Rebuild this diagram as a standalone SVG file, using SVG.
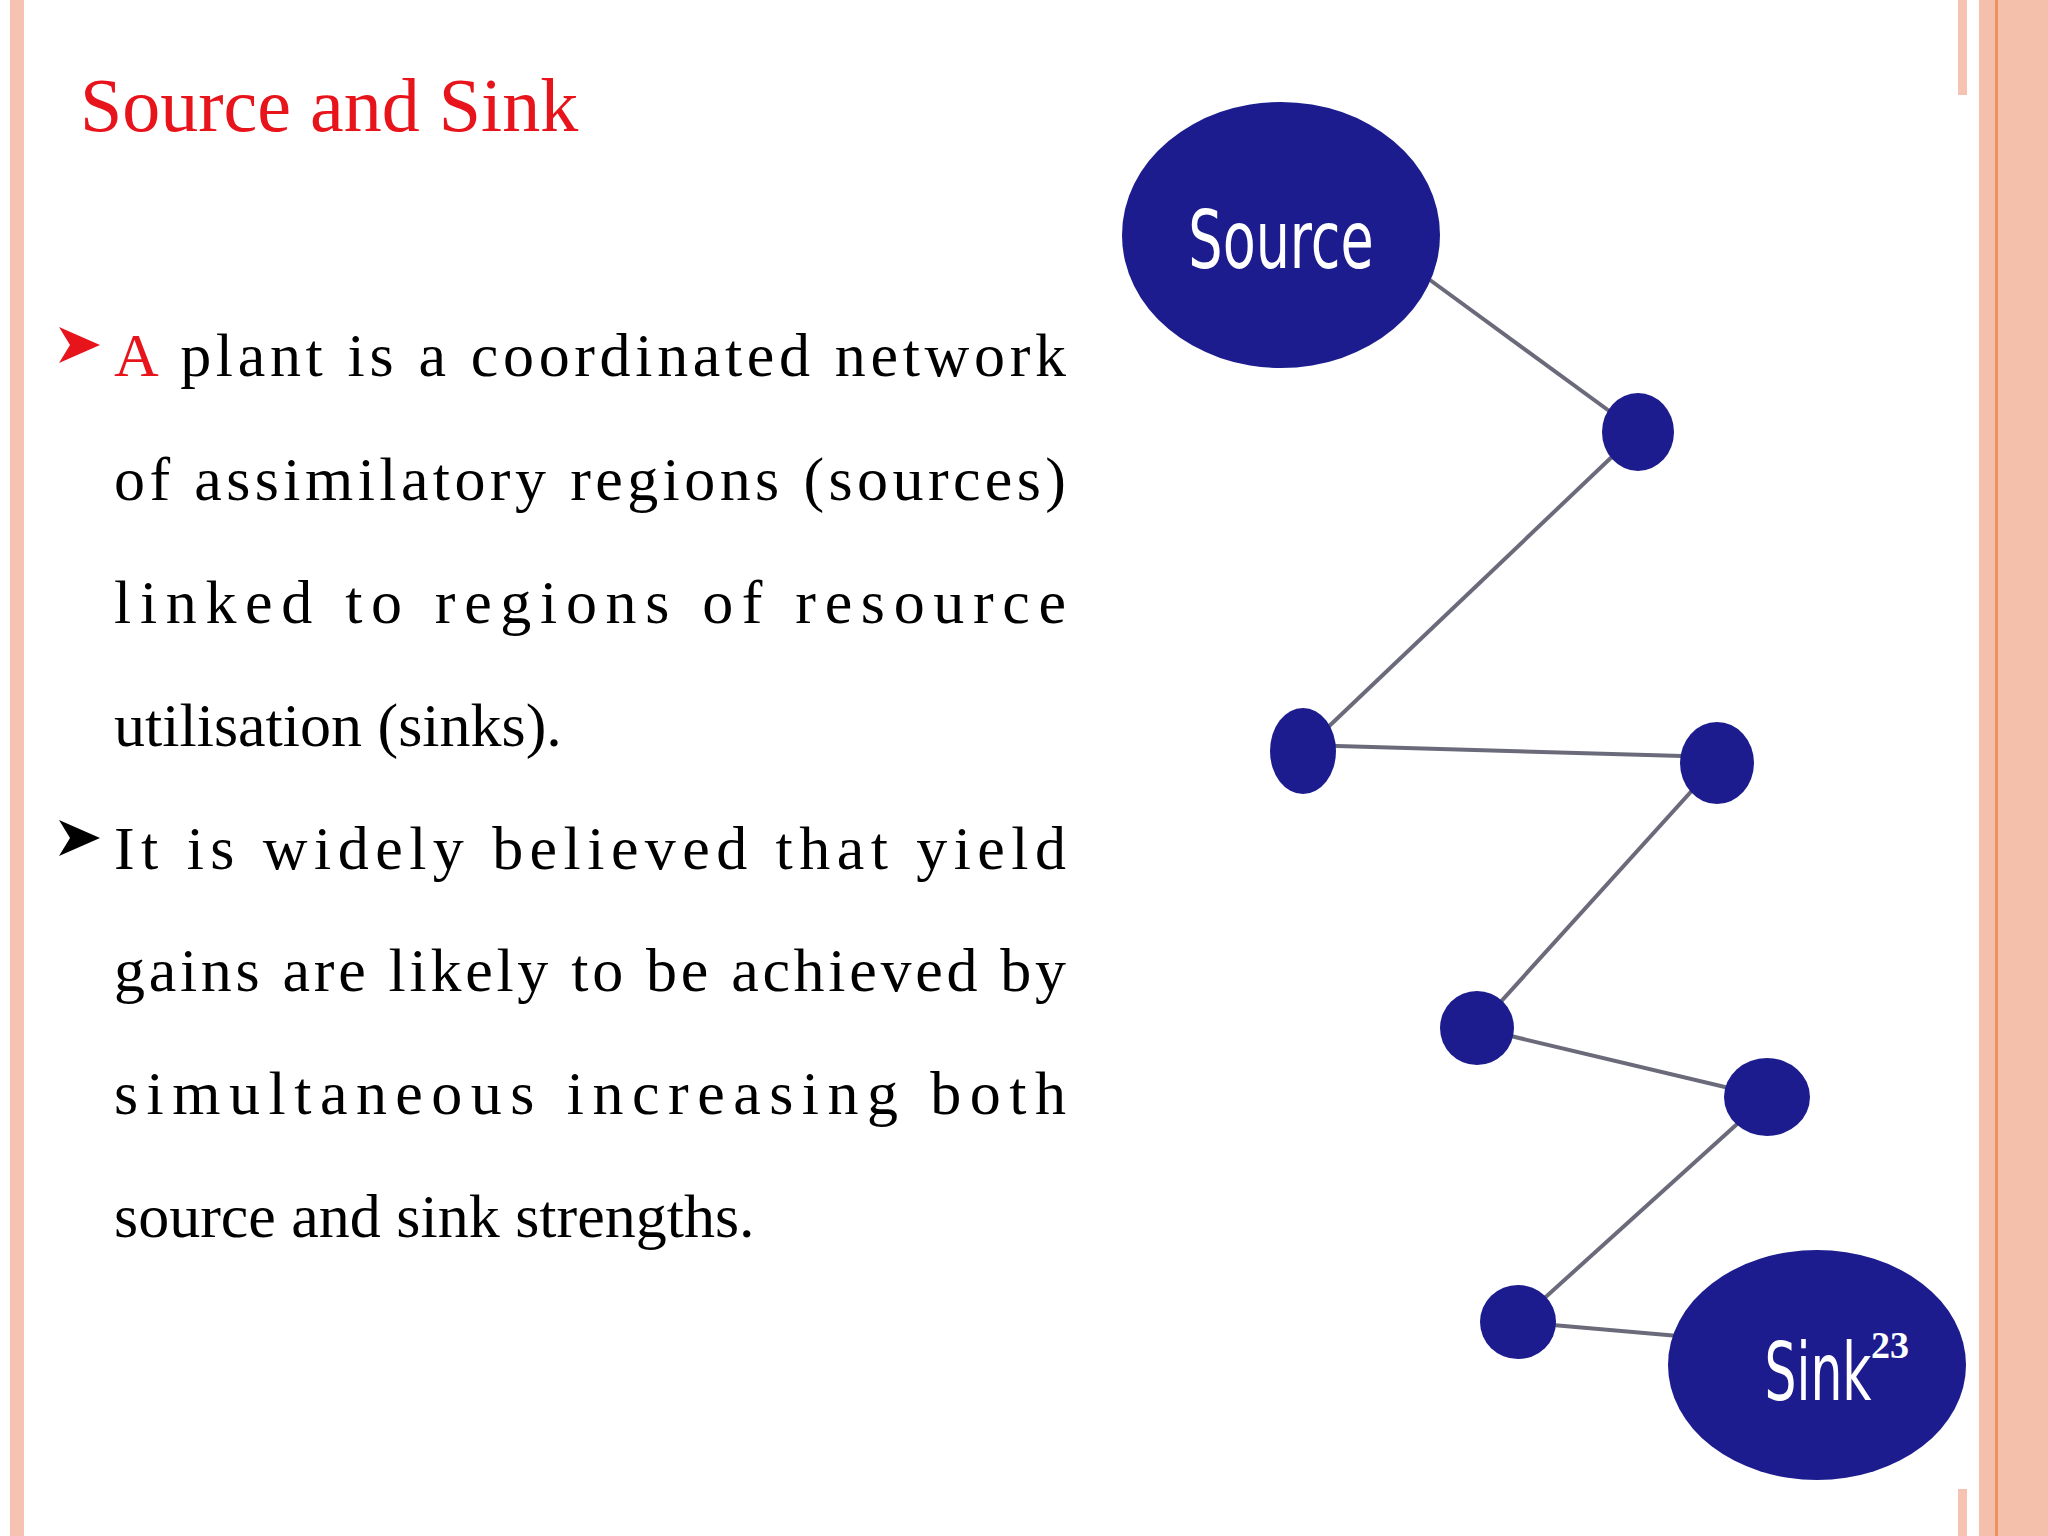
<svg xmlns="http://www.w3.org/2000/svg" width="2048" height="1536" viewBox="0 0 2048 1536">
<style>
.t{font-family:"Liberation Serif","Times New Roman",serif;font-size:62px;fill:#000}
.n{fill:#1c1c8e}
.c{stroke:#6a6a7a;stroke-width:4}
</style>
<rect width="2048" height="1536" fill="#fff"/>
<rect x="10" y="0" width="14" height="1536" fill="#f6c3b3"/>
<rect x="1958" y="0" width="9" height="95" fill="#f6c3b3"/>
<rect x="1958" y="1489" width="9" height="47" fill="#f6c3b3"/>
<rect x="1979" y="0" width="69" height="1536" fill="#f5c0ab"/>
<rect x="1995" y="0" width="3" height="1536" fill="#f09060"/>
<text x="80" y="131" style="font-family:'Liberation Serif',serif;font-size:76px;fill:#e8141b">Source and Sink</text>
<path d="M59 327 L100 345 L59 363 L70 345 Z" fill="#e8141b"/>
<path d="M59 820 L100 838 L59 856 L70 838 Z" fill="#000"/>
<text class="t" x="114" y="376" textLength="952" lengthAdjust="spacing"><tspan fill="#e8141b">A</tspan> plant is a coordinated network</text>
<text class="t" x="114" y="500" textLength="952" lengthAdjust="spacing">of assimilatory regions (sources)</text>
<text class="t" x="114" y="623" textLength="952" lengthAdjust="spacing">linked to regions of resource</text>
<text class="t" x="114" y="746">utilisation (sinks).</text>
<text class="t" x="114" y="869" textLength="952" lengthAdjust="spacing">It is widely believed that yield</text>
<text class="t" x="114" y="991" textLength="952" lengthAdjust="spacing">gains are likely to be achieved by</text>
<text class="t" x="114" y="1114" textLength="952" lengthAdjust="spacing">simultaneous increasing both</text>
<text class="t" x="114" y="1237">source and sink strengths.</text>
<g id="connectors">
<line class="c" x1="1430" y1="280" x2="1638" y2="432"/>
<line class="c" x1="1638" y1="432" x2="1303" y2="751"/>
<line class="c" x1="1303" y1="745" x2="1717" y2="757"/>
<line class="c" x1="1717" y1="763" x2="1477" y2="1028"/>
<line class="c" x1="1477" y1="1028" x2="1767" y2="1097"/>
<line class="c" x1="1767" y1="1097" x2="1518" y2="1322"/>
<line class="c" x1="1518" y1="1322" x2="1690" y2="1337"/>
</g>
<g id="source"><ellipse class="n" cx="1281" cy="235" rx="159" ry="133"/>
<text x="1281" y="268" text-anchor="middle" style="font-family:'Liberation Sans Narrow','DejaVu Sans Condensed',sans-serif;font-size:80px;fill:#fff" transform="translate(1281 0) scale(0.75 1) translate(-1281 0)">Source</text></g>
<g id="n1"><ellipse class="n" cx="1638" cy="432" rx="36" ry="39"/></g>
<g id="n2"><ellipse class="n" cx="1303" cy="751" rx="33" ry="43"/></g>
<g id="n3"><ellipse class="n" cx="1717" cy="763" rx="37" ry="41"/></g>
<g id="n4"><ellipse class="n" cx="1477" cy="1028" rx="37" ry="37"/></g>
<g id="n5"><ellipse class="n" cx="1767" cy="1097" rx="43" ry="39"/></g>
<g id="n6"><ellipse class="n" cx="1518" cy="1322" rx="38" ry="37"/></g>
<g id="sink"><ellipse class="n" cx="1817" cy="1365" rx="149" ry="115"/>
<text x="1818" y="1400" text-anchor="middle" style="font-family:'Liberation Sans Narrow','DejaVu Sans Condensed',sans-serif;font-size:80px;fill:#fff" transform="translate(1818 0) scale(0.7 1) translate(-1818 0)">Sink</text></g>
<text x="1890" y="1358" text-anchor="middle" style="font-family:'Liberation Serif',serif;font-size:38px;font-weight:bold;fill:#fff">23</text>
</svg>
